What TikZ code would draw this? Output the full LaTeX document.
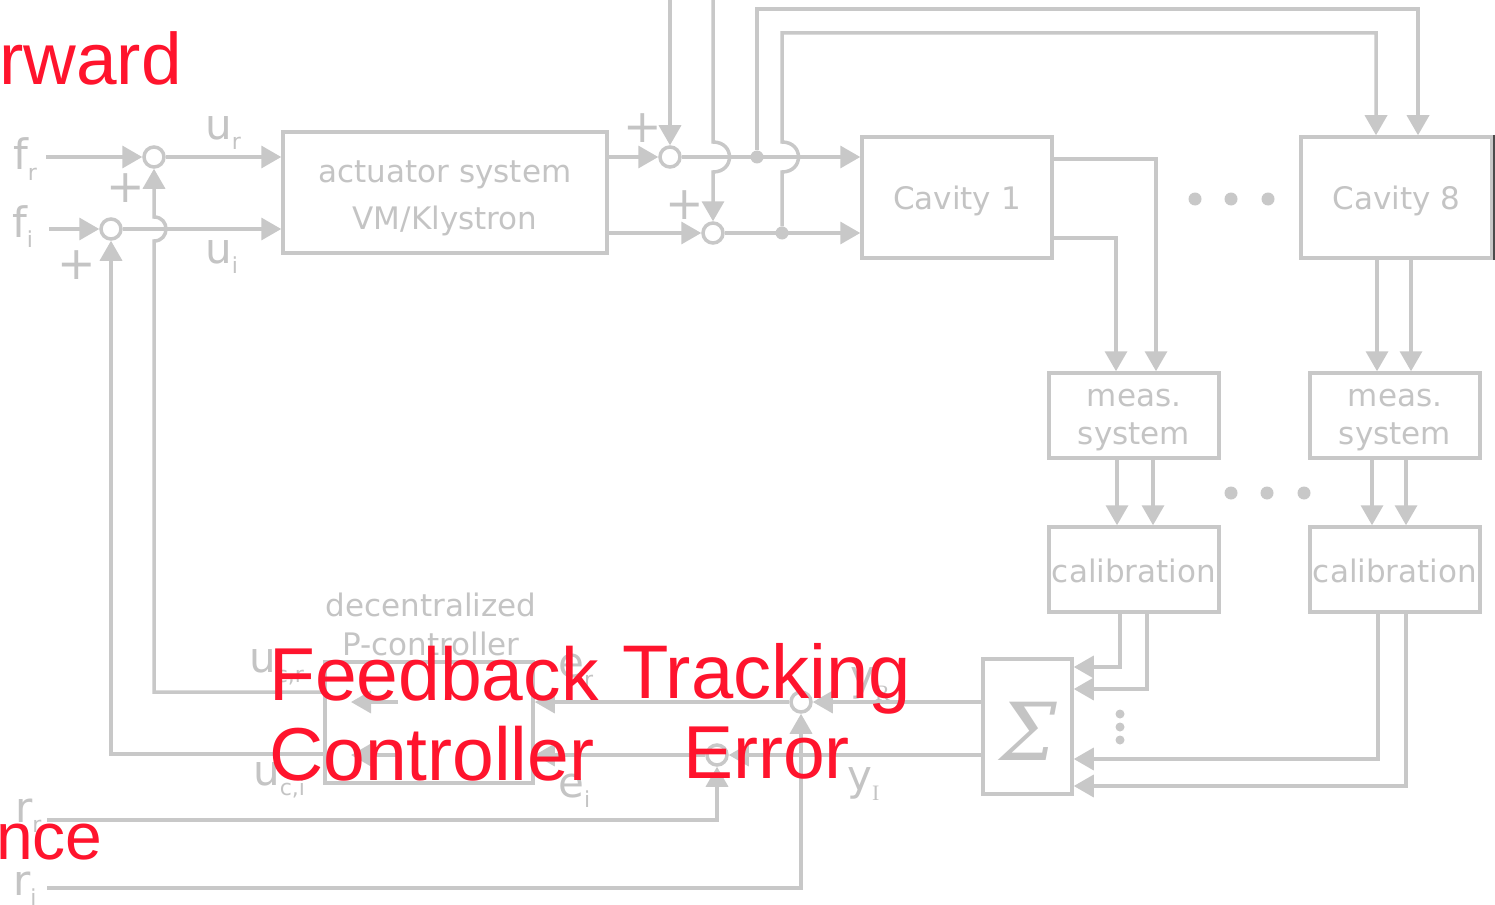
\documentclass[tikz,border=0pt]{standalone}
\usepackage{fontspec}
\setmainfont{DejaVu Sans}
\newfontfamily\redf{Liberation Sans}
\newfontfamily\serf{Liberation Serif}
\newfontfamily\sigf{DejaVu Serif}
\usetikzlibrary{arrows.meta,calc}
\definecolor{gc}{RGB}{200,200,200}
\definecolor{gt}{RGB}{196,196,196}
\definecolor{rc}{RGB}{255,20,45}
\newcommand{\lab}[2]{{\fontsize{42}{42}\selectfont #1}\raisebox{-10pt}{\fontsize{22}{22}\selectfont #2}}
\begin{document}
\begin{tikzpicture}[x=1pt,y=-1pt,
 ln/.style={draw=gc,line width=3.5pt},
 arr/.style={ln,-{Triangle[length=20pt,width=22pt]}},
 blk/.style={draw=gc,line width=3.5pt,fill=white,inner sep=0pt},
 btxt/.style={text=gt,inner sep=0pt,align=center,font=\fontsize{31}{35}\selectfont},
 sumc/.style={circle,draw=gc,line width=3.5pt,fill=white,minimum size=20pt,inner sep=0pt},
 dotc/.style={circle,fill=gc,inner sep=0pt,minimum size=#1},
 dotc/.default=13pt,
 lbl/.style={anchor=base west,inner sep=0pt,text=gt},
 pl/.style={inner sep=0pt,text=gt,font=\fontsize{46}{46}\selectfont},
 redtxt/.style={anchor=base west,inner sep=0pt,text=rc,font=\redf\fontsize{75}{75}\selectfont},
]
\fill[white] (0,0) rectangle (1495,904);
\useasboundingbox (0,0) rectangle (1495,904);

% blocks
\node[blk,minimum width=324pt,minimum height=121pt] (act) at (445,192.5) {};
\node[blk,minimum width=190pt,minimum height=121pt] (cav1) at (957,197.5) {};
\node[blk,minimum width=191pt,minimum height=121pt] (cav8) at (1396.5,197.5) {};
\node[blk,minimum width=170pt,minimum height=85pt] (meas1) at (1134,415.5) {};
\node[blk,minimum width=170pt,minimum height=85pt] (meas8) at (1395,415.5) {};
\node[blk,minimum width=170pt,minimum height=85pt] (cal1) at (1134,569.5) {};
\node[blk,minimum width=170pt,minimum height=85pt] (cal8) at (1395,569.5) {};
\node[blk,minimum width=89pt,minimum height=135pt] (sig) at (1027.5,726.5) {};
\node[blk,minimum width=208pt,minimum height=121pt] (ctrl) at (429,722.5) {};

% block texts
\node[btxt,font=\fontsize{31}{47}\selectfont] (acttxt) at ([yshift=-6pt]act.center) {actuator system\\VM/Klystron};
\node[btxt] (cav1txt) at ([yshift=-3pt]cav1.center) {Cavity 1};
\node[btxt] (cav8txt) at ([yshift=-3pt]cav8.center) {Cavity 8};
\node[btxt,font=\fontsize{31}{38}\selectfont] (meas1txt) at ([yshift=-5pt]meas1.center) {meas.\\system};
\node[btxt,font=\fontsize{31}{38}\selectfont] (meas8txt) at ([yshift=-5pt]meas8.center) {meas.\\system};
\node[btxt] (cal1txt) at ([yshift=-1pt]cal1.center) {calibration};
\node[btxt] (cal8txt) at ([yshift=-1pt]cal8.center) {calibration};
\node[btxt,font=\sigf\itshape\fontsize{80}{80}\selectfont] (sigtxt) at ([yshift=-5pt,xshift=1pt]sig.center) {Σ};
\node[btxt,font=\fontsize{31}{39}\selectfont] (ctxt) at (431,624) {decentralized\\P-controller};

% summing junctions
\node[sumc] (Sfr) at (154,157) {};
\node[sumc] (Sfi) at (111,229) {};
\node[sumc] (S1) at (670,157) {};
\node[sumc] (S2) at (713,233) {};
\node[sumc] (Ser) at (801,702) {};
\node[sumc] (Sei) at (717,755) {};

% dots
\node[dotc=13pt] (d1) at (757,157) {};
\node[dotc=13pt] (d2) at (782,233) {};
\node[dotc] (e1) at (1195,199) {};
\node[dotc] (e2) at (1231,199) {};
\node[dotc] (e3) at (1268,199) {};
\node[dotc] (g1) at (1231,493) {};
\node[dotc] (g2) at (1267,493) {};
\node[dotc] (g3) at (1304,493) {};
\node[dotc=9pt] (v1) at (1120,714) {};
\node[dotc=9pt] (v2) at (1120,727) {};
\node[dotc=9pt] (v3) at (1120,740) {};

% coordinates
\coordinate (frin) at (46,157);
\coordinate (fiin) at (49,229);
\coordinate (top1) at (670,0);
\coordinate (top2) at (713,0);
\coordinate (c8a) at (1418,9);
\coordinate (c8b) at (1376,33);
\coordinate (rrin) at (47,820);
\coordinate (riin) at (47,888);
\coordinate (y159) at (0,159);
\coordinate (y238) at (0,238);
\coordinate (x1156) at (1156,0);
\coordinate (x1116) at (1116,0);
\coordinate (x1117) at (1117,0);
\coordinate (x1153) at (1153,0);
\coordinate (x1120) at (1120,0);
\coordinate (x1147) at (1147,0);
\coordinate (x1377) at (1377,0);
\coordinate (x1411) at (1411,0);
\coordinate (x1372) at (1372,0);
\coordinate (x1406) at (1406,0);
\coordinate (x1378) at (1378,0);
\coordinate (y667) at (0,667);
\coordinate (y689) at (0,689);
\coordinate (y759) at (0,759);
\coordinate (y786) at (0,786);
\coordinate (y692) at (0,692);
\coordinate (y754) at (0,754);
\coordinate (ci1s) at (398,702);
\coordinate (ci1e) at (351,702);
\coordinate (ci2s) at (398,755);
\coordinate (ci2e) at (351,755);

% input side
\draw[arr] (frin) -- (Sfr);
\draw[arr] (fiin) -- (Sfi);
\draw[arr] (Sfr) -- (Sfr -| act.west);
\draw[arr] (Sfi) -- (Sfi -| act.west);
\draw[arr] (ctrl.west |- y692) -- (154,692) -- (154,241) .. controls (170,241) and (170,217) .. (154,217) -- (Sfr);
\draw[arr] (ctrl.west |- y754) -| (Sfi);

% actuator to cavities
\draw[arr] (S1 -| act.east) -- (S1);
\draw[arr] (S2 -| act.east) -- (S2);
\draw[arr] (top1) -- (S1);
\draw[arr] (top2) -- (713,142) .. controls (735,142) and (735,172) .. (713,172) -- (S2);
\draw[arr] (S1) -- (S1 -| cav1.west);
\draw[arr] (S2) -- (S2 -| cav1.west);
\draw[arr] (d1) -- (d1 |- c8a) -- (c8a) -- (c8a |- cav8.north);
\draw[arr] (d2) -- (782,172) .. controls (804,172) and (804,142) .. (782,142) -- (782,33) -- (c8b) -- (c8b |- cav8.north);

% cavities to measurement
\draw[arr] (cav1.east |- y159) -| (x1156 |- meas1.north);
\draw[arr] (cav1.east |- y238) -| (x1116 |- meas1.north);
\draw[arr] (cav8.south -| x1377) -- (meas8.north -| x1377);
\draw[arr] (cav8.south -| x1411) -- (meas8.north -| x1411);
\draw[arr] (meas1.south -| x1117) -- (cal1.north -| x1117);
\draw[arr] (meas1.south -| x1153) -- (cal1.north -| x1153);
\draw[arr] (meas8.south -| x1372) -- (cal8.north -| x1372);
\draw[arr] (meas8.south -| x1406) -- (cal8.north -| x1406);

% calibration to sum
\draw[arr] (cal1.south -| x1120) |- (sig.east |- y667);
\draw[arr] (cal1.south -| x1147) |- (sig.east |- y689);
\draw[arr] (cal8.south -| x1378) |- (sig.east |- y759);
\draw[arr] (cal8.south -| x1406) |- (sig.east |- y786);

% error
\draw[arr] (sig.west |- Ser) -- (Ser);
\draw[arr] (sig.west |- Sei) -- (Sei);
\draw[arr] (rrin) -| (Sei);
\draw[arr] (riin) -| (Ser);
\draw[arr] (Ser) -- (Ser -| ctrl.east);
\draw[arr] (Sei) -- (Sei -| ctrl.east);
\draw[arr] (ci1s) -- (ci1e);
\draw[arr] (ci2s) -- (ci2e);

% right edge
\draw[line width=2pt,black!70] (1493.5,135) -- (1493.5,260);

% labels
\node[lbl] (lfr) at (13,170) {\lab{f}{r}};
\node[lbl] (lfi) at (12,237) {\lab{f}{i}};
\node[lbl] (lur) at (205,140) {\lab{u}{r}};
\node[lbl] (lui) at (205,263) {\lab{u}{i}};
\node[lbl] (lucr) at (249,672) {\lab{u}{c,r}};
\node[lbl] (luci) at (253,785) {\lab{u}{c,i}};
\node[lbl] (ler) at (558,677) {\lab{e}{r}};
\node[lbl] (lei) at (558,797) {\lab{e}{i}};
\node[lbl] (lyr) at (850,690) {\lab{y}{\serf R}};
\node[lbl] (lyi) at (847,790) {\lab{y}{\serf I}};
\node[lbl] (lrr) at (15,822) {\lab{r}{r}};
\node[lbl] (lri) at (13,895) {\lab{r}{i}};
\node[pl] (p1) at (126,188) {+};
\node[pl] (p2) at (77,265) {+};
\node[pl] (p3) at (643,128) {+};
\node[pl] (p4) at (685,205) {+};

% red overlay text
\node[redtxt,font=\redf\fontsize{73}{73}\selectfont] (r1) at (-1,85) {rward};
\node[redtxt] (r2) at (269,700) {Feedback};
\node[redtxt,font=\redf\fontsize{76}{76}\selectfont] (r3) at (622,698) {Tracking};
\node[redtxt] (r4) at (269,780) {Controller};
\node[redtxt] (r5) at (683,778) {Error};
\node[redtxt,font=\redf\fontsize{66}{66}\selectfont] (r6) at (-4,859) {nce};
\end{tikzpicture}
\end{document}
